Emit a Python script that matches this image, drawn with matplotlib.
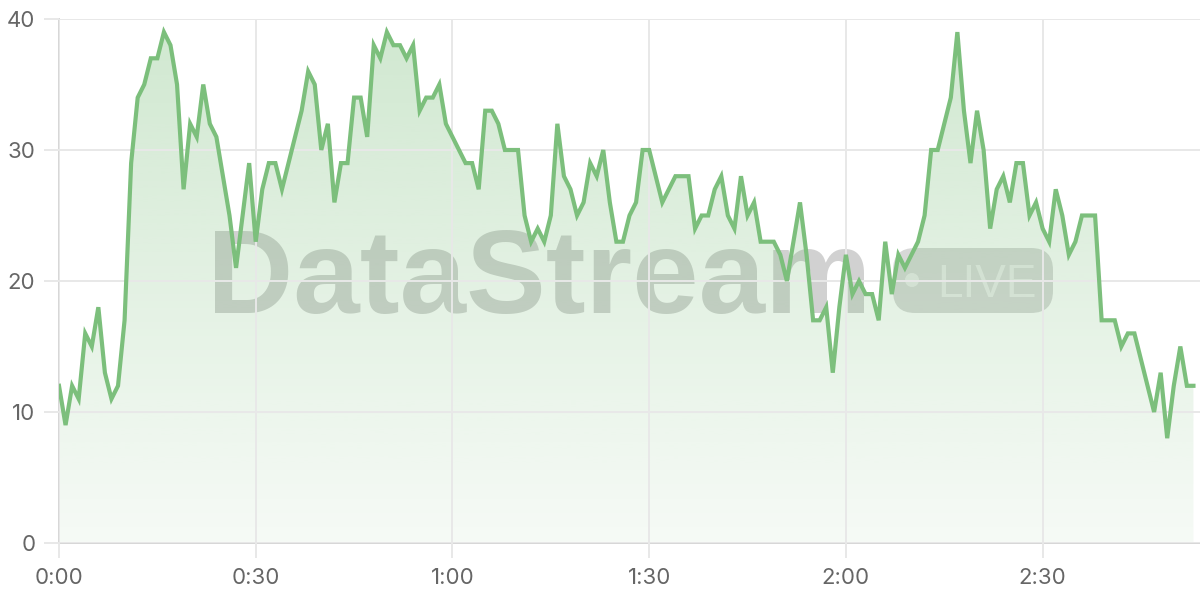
import numpy as np
import matplotlib
matplotlib.use("Agg")
import matplotlib.pyplot as plt
from matplotlib.patches import FancyBboxPatch, Circle
from matplotlib.ticker import FuncFormatter

# seconds since start, one sample per second
seconds = list(range(174))
values = [
    12, 9, 12, 11, 16, 15, 18, 13, 11, 12,
    17, 29, 34, 35, 37, 37, 39, 38, 35, 27,
    32, 31, 35, 32, 31, 28, 25, 21, 25, 29,
    23, 27, 29, 29, 27, 29, 31, 33, 36, 35,
    30, 32, 26, 29, 29, 34, 34, 31, 38, 37,
    39, 38, 38, 37, 38, 33, 34, 34, 35, 32,
    31, 30, 29, 29, 27, 33, 33, 32, 30, 30,
    30, 25, 23, 24, 23, 25, 32, 28, 27, 25,
    26, 29, 28, 30, 26, 23, 23, 25, 26, 30,
    30, 28, 26, 27, 28, 28, 28, 24, 25, 25,
    27, 28, 25, 24, 28, 25, 26, 23, 23, 23,
    22, 20, 23, 26, 22, 17, 17, 18, 13, 18,
    22, 19, 20, 19, 19, 17, 23, 19, 22, 21,
    22, 23, 25, 30, 30, 32, 34, 39, 33, 29,
    33, 30, 24, 27, 28, 26, 29, 29, 25, 26,
    24, 23, 27, 25, 22, 23, 25, 25, 25, 17,
    17, 17, 15, 16, 16, 14, 12, 10, 13, 8,
    12, 15, 12, 12,
]
x_ticks = [0, 30, 60, 90, 120, 150]
y_ticks = [0, 10, 20, 30, 40]

line_color = "#7cbf7c"
grid_color = "#e8e8e8"
label_color = "#666666"

fig = plt.figure(figsize=(12, 6), dpi=100)
ax = fig.add_axes([59 / 1200, 57 / 600, 1 - 59 / 1200, (543 - 19) / 600])
ax.set_xlim(0, 174)
ax.set_ylim(0, 40)

# watermark (sits under the area fill)
wm_alpha = 0.18
ax.text(2.07, 2.87, "DataStream", transform=fig.dpi_scale_trans,
        fontsize=86, fontweight="bold", family="Liberation Sans",
        color="black", alpha=wm_alpha, zorder=0.5, ha="left", va="baseline")
pill = FancyBboxPatch((8.93, 2.87), 1.60, 0.65,
                      boxstyle="round,pad=0,rounding_size=0.22",
                      transform=fig.dpi_scale_trans, facecolor="black",
                      edgecolor="none", alpha=wm_alpha * 0.85, zorder=0.5)
ax.add_patch(pill)
ax.add_patch(Circle((9.12, 3.20), 0.07, transform=fig.dpi_scale_trans,
                    facecolor="white", edgecolor="none", alpha=0.5, zorder=0.6))
ax.text(9.37, 3.03, "LIVE", transform=fig.dpi_scale_trans, fontsize=33,
        family="Liberation Sans", color="white", alpha=0.5, zorder=0.6,
        ha="left", va="baseline")

# gradient area under the line
poly = ax.fill_between(seconds, values, 0, color="none", zorder=1)
alpha_col = np.linspace(0.36, 0.07, 256).reshape(-1, 1)
rgba = np.zeros((256, 1, 4))
rgba[..., :3] = matplotlib.colors.to_rgb(line_color)
rgba[..., 3] = alpha_col
img = ax.imshow(rgba, extent=[0, 174, 0, 40], aspect="auto",
                origin="upper", zorder=1, interpolation="bilinear")
img.set_clip_path(poly.get_paths()[0], transform=ax.transData)

ax.plot(seconds, values, color=line_color, lw=3, solid_joinstyle="miter", zorder=3)

ax.set_xticks(x_ticks)
ax.set_yticks(y_ticks)
ax.xaxis.set_major_formatter(FuncFormatter(lambda v, p: f"{int(v) // 60}:{int(v) % 60:02d}"))
ax.grid(True, color=grid_color, lw=1.4, zorder=0.8)
ax.set_axisbelow(False)
for gl in ax.get_xgridlines() + ax.get_ygridlines():
    gl.set_zorder(0.8)

for side in ["top", "right"]:
    ax.spines[side].set_visible(False)
for side in ["left", "bottom"]:
    ax.spines[side].set_color("#d6d6d6")
    ax.spines[side].set_linewidth(1.4)
    ax.spines[side].set_zorder(2)

ax.tick_params(axis="both", length=11, width=1.4, color=grid_color,
               labelcolor=label_color, labelsize=16)
ax.tick_params(axis="y", pad=6)
ax.tick_params(axis="x", pad=7)
for lbl in ax.get_xticklabels() + ax.get_yticklabels():
    lbl.set_family("Inter")

fig.savefig("out.png", dpi=100)
